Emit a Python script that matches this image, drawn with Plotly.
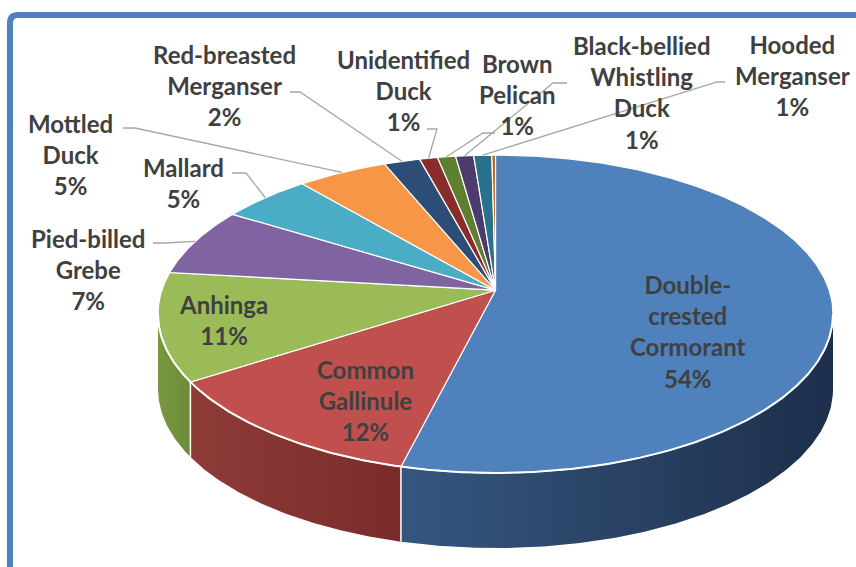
import numpy as np
import plotly.graph_objects as go

# ---- data -------------------------------------------------------------
species = [
    "Double-crested Cormorant", "Common Gallinule", "Anhinga",
    "Pied-billed Grebe", "Mallard", "Mottled Duck",
    "Red-breasted Merganser", "Unidentified Duck", "Brown Pelican",
    "Black-bellied Whistling Duck", "Hooded Merganser", "",
]
percent = [54, 12, 11, 7, 5, 5, 2, 1, 1, 1, 1, 0.2]

# how each name is broken over lines in its label
label_lines = [
    "Double-<br>crested<br>Cormorant", "Common<br>Gallinule", "Anhinga",
    "Pied-billed<br>Grebe", "Mallard", "Mottled<br>Duck",
    "Red-breasted<br>Merganser", "Unidentified<br>Duck", "Brown<br>Pelican",
    "Black-bellied<br>Whistling<br>Duck", "Hooded<br>Merganser", "",
]

top_colors = ["#4F81BD", "#C0504D", "#9BBB59", "#8064A2", "#4BACC6", "#F79646",
              "#2C4D75", "#8A2C2A", "#5F7F30", "#4D3B6E", "#27718A", "#C0600F"]
side_colors = [("#36567F", "#1D2F4B"), ("#8E3B38", "#7A2B29"), ("#789940", "#6C8B38"),
               ("#604A7D", "#4D3B62"), ("#3A8AA0", "#2E7487"), ("#C87535", "#B0601F"),
               ("#22395A", "#1B2E48"), ("#662422", "#551C1B"), ("#4C6227", "#3F5220"),
               ("#3D2F4E", "#33273F"), ("#1F5766", "#1A4856"), ("#924611", "#7E3C0E")]

# label centres (px) and leader-line anchor/elbow for labels outside the pie
label_pos = [(688, 331), (365, 400), (223, 320), (88, 269), (183, 183), (70, 154),
             (224, 85), (403, 90), (517, 94), (642, 92), (792, 75), None]
leader = [None, None, None,
          ((153, 243), (165, 243)), ((232, 173), (246, 173)), ((123, 128), (135, 128)),
          ((290, 92), (300, 92)), ((427, 129), (437, 129)), ((495, 133), (483, 133)),
          ((567, 83), (553, 83)), ((725, 82), (717, 82)), None]

# ---- pie geometry (tilted disc seen in perspective) --------------------
W, H = 856, 567
CX, CY, AX, BY, K, DEPTH = 495.5, 290.2, 333.7, 155.4, 0.15, 75


def rim(theta_deg, drop=0.0):
    t = np.radians(theta_deg)
    u, v = np.sin(t), np.cos(t)
    d = 1 + K * v
    return CX + AX * u / d, CY - BY * v / d + drop


def arc(a, b, step=0.5):
    n = max(2, int(abs(b - a) / step) + 2)
    return np.linspace(a, b, n)


total = sum(percent)
bounds = np.concatenate([[0], np.cumsum(percent) / total * 360])
front_r = np.degrees(np.arccos(-K))          # right tangent of the side wall
front_l = 360 - front_r                      # left tangent

fig = go.Figure()

# side wall of the disc (visible front part only)
for i in range(len(percent)):
    a, b = max(bounds[i], front_r), min(bounds[i + 1], front_l)
    if b <= a:
        continue
    ts = arc(a, b)
    xt, yt = rim(ts)
    xb, yb = rim(ts[::-1], DEPTH)
    xs = np.concatenate([xt, xb, xt[:1]])
    ys = np.concatenate([yt, yb, yt[:1]])
    light, dark = side_colors[i]
    fig.add_trace(go.Scatter(
        x=xs, y=ys, mode="lines", fill="toself",
        line=dict(color="rgba(0,0,0,0)", width=0),
        fillgradient=dict(type="horizontal", colorscale=[[0, light], [1, dark]]),
        hoverinfo="skip", showlegend=False))

# white edges on the side wall between slices
for t in bounds[1:-1]:
    if front_r < t < front_l:
        x0, y0 = rim(t)
        x1, y1 = rim(t, DEPTH)
        fig.add_trace(go.Scatter(x=[x0, x1], y=[y0, y1], mode="lines",
                                 line=dict(color="white", width=1.5),
                                 hoverinfo="skip", showlegend=False))

# top face slices
for i in range(len(percent)):
    ts = arc(bounds[i], bounds[i + 1])
    xa, ya = rim(ts)
    xs = np.concatenate([[CX], xa, [CX]])
    ys = np.concatenate([[CY], ya, [CY]])
    fig.add_trace(go.Scatter(
        x=xs, y=ys, mode="lines", fill="toself", fillcolor=top_colors[i],
        line=dict(color="white", width=1.2), hoverinfo="skip", showlegend=False))

# highlight along the front rim
ts = arc(front_r, front_l)
xr, yr = rim(ts)
fig.add_trace(go.Scatter(x=xr, y=yr, mode="lines", line=dict(color="white", width=2),
                         hoverinfo="skip", showlegend=False))

# leader lines
for i in range(len(percent)):
    if leader[i] is None:
        continue
    (x0, y0), (x1, y1) = leader[i]
    xm, ym = rim((bounds[i] + bounds[i + 1]) / 2)
    fig.add_trace(go.Scatter(x=[x0, x1, xm], y=[y0, y1, ym], mode="lines",
                             line=dict(color="#A6A6A6", width=1.3),
                             hoverinfo="skip", showlegend=False))

# data labels
for i in range(len(percent)):
    if not species[i]:
        continue
    x, y = label_pos[i]
    pct = round(percent[i] / total * 100)
    fig.add_annotation(x=x, y=y, text=f"{label_lines[i]}<br>{pct}%", showarrow=False,
                       xanchor="center", yanchor="middle", align="center",
                       font=dict(family="Lato", size=24, color="#404040", weight="bold"))

# chart frame
fig.add_shape(type="path", path="M 10,600 L 10,23 Q 10,15 18,15 L 900,15",
              line=dict(color="#4F81BD", width=6), layer="above")

fig.update_layout(
    width=W, height=H, margin=dict(l=0, r=0, t=0, b=0),
    paper_bgcolor="white", plot_bgcolor="white", showlegend=False,
    xaxis=dict(range=[0, W], visible=False, fixedrange=True),
    yaxis=dict(range=[H, 0], visible=False, fixedrange=True),
)

fig.write_html("out.html")
